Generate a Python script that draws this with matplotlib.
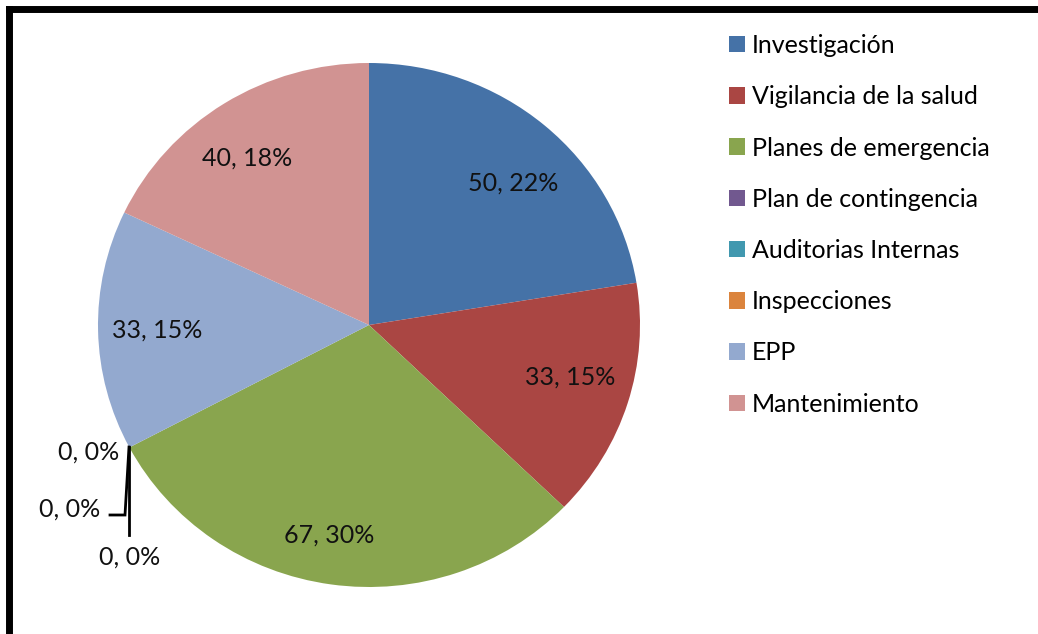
import matplotlib.pyplot as plt
from matplotlib.patches import Patch
from matplotlib.lines import Line2D

# Data
categories = ['Investigación', 'Vigilancia de la salud', 'Planes de emergencia',
              'Plan de contingencia', 'Auditorias Internas', 'Inspecciones',
              'EPP', 'Mantenimiento']
values = [50, 33, 67, 0, 0, 0, 33, 40]
colors = ['#4572A7', '#AA4643', '#89A54E', '#71588F', '#4198AF', '#DB843D',
          '#93A9CF', '#D19392']

plt.rcParams['font.family'] = ['Lato', 'DejaVu Sans']

W, H = 1038, 634
fig = plt.figure(figsize=(W / 100, H / 100), dpi=100)

# pie axes (slightly wider than tall, as in the original)
cx, cy, rx, ry = 369, 325, 271, 262
ax = fig.add_axes([(cx - rx) / W, (H - cy - ry) / H, 2 * rx / W, 2 * ry / H])
wedges, _ = ax.pie(values, colors=colors, startangle=90, counterclock=False,
                   wedgeprops=dict(linewidth=0))
ax.set_aspect('auto')
ax.set_xlim(-1, 1)
ax.set_ylim(-1, 1)

total = sum(values)
labels = [f'{v}, {round(100 * v / total)}%' for v in values]

# label positions in axes data coords
def to_data(px, py):
    return (px - cx) / rx, (cy - py) / ry

label_pos = [(513, 183), (570, 377), (329, 535), (119, 452), (100, 509),
             (130, 557), (157, 330), (247, 158)]
ha_list = ['center', 'center', 'center', 'right', 'right', 'center', 'center', 'center']
for lab, (px, py), ha in zip(labels, label_pos, ha_list):
    x, y = to_data(px, py)
    ax.text(x, y, lab, ha=ha, va='center', fontsize=18, color='#111111', clip_on=False)

# leader lines for the zero slices
for pts in [[(129, 447), (129, 535)], [(129, 447), (125, 515), (110, 515)]]:
    xs, ys = zip(*[to_data(px, py) for px, py in pts])
    ax.plot(xs, ys, color='black', lw=2, clip_on=False, solid_joinstyle='miter')

# legend
handles = [Patch(facecolor=c, edgecolor='none') for c in colors]
fig.legend(handles, categories, loc='upper left', bbox_to_anchor=(729 / W, 1 - 34 / H),
           frameon=False, fontsize=18, handlelength=0.64, handleheight=0.64,
           handletextpad=0.28, labelspacing=1.13, borderaxespad=0, borderpad=0)

# outer border (top and left only visible)
fig.add_artist(Line2D([9 / W, 1], [1 - 9 / H, 1 - 9 / H], color='black', lw=5,
                      transform=fig.transFigure, solid_capstyle='projecting'))
fig.add_artist(Line2D([9 / W, 9 / W], [0, 1 - 9 / H], color='black', lw=5,
                      transform=fig.transFigure, solid_capstyle='projecting'))

plt.savefig('out.png', dpi=100)
